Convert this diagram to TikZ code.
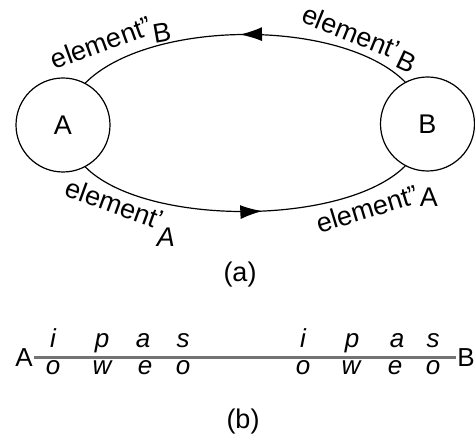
\documentclass[tikz,border=0pt]{standalone}
\usepackage{fontspec}
\setmainfont{Liberation Sans}
\usetikzlibrary{arrows.meta,decorations.markings}
\begin{document}
\begin{tikzpicture}[x=1pt,y=1pt,
  big/.style={font=\fontsize{27}{32}\selectfont},
  station/.style={draw, circle, line width=1.2pt, minimum size=94pt, inner sep=0pt, big},
  arcline/.style={line width=1.2pt},
  lbl/.style={big, inner sep=0pt},
  ilbl/.style={inner sep=0pt, font=\fontsize{27}{32}\selectfont\itshape},
  seg/.style={inner sep=0pt, anchor=base, font=\fontsize{26}{30}\selectfont\itshape},
  endl/.style={inner sep=1.5pt, font=\fontsize{26}{30}\selectfont},
  track/.style={line width=3pt, black!55},
  midarrow/.style={postaction={decorate, decoration={markings,
      mark=at position #1 with {\arrow{Latex[length=22pt,width=14pt]}}}}},
]
\useasboundingbox (0,0) rectangle (475,442);

% part (a)
\node[station] (A) at (63,317) {A};
\node[station] (B) at (427.5,318) {B};

\draw[arcline, midarrow=0.515] (B.118) .. controls +(-64,64) and +(64,64) .. (A.62);
\draw[arcline, midarrow=0.55] (A.-62) .. controls +(60,-60) and +(-60,-60) .. (B.-118);

\node[lbl, rotate=20] (e1) at (101,399.5) {element"};
\node[lbl, rotate=10] (b1) at (162,409) {B};
\node[lbl, rotate=-22] (e2) at (351,410) {element'};
\node[lbl, rotate=-25] (b2) at (407,380) {B};
\node[lbl, rotate=-20] (e3) at (115,238.6) {element'};
\node[ilbl] (a3) at (166,205) {A};
\node[lbl, rotate=17] (e4) at (367,233.4) {element"};
\node[lbl] (a4) at (429,245) {A};

\node[lbl] (capa) at (240,167) {(a)};

% part (b)
\node[endl] (lA) at (24,84) {A};
\node[endl] (lB) at (466,84) {B};
\draw[track] (lA) -- (lB);

\node[seg] (t1) at (53,94) {i};
\node[seg] (t2) at (102,94) {p};
\node[seg] (t3) at (143,94) {a};
\node[seg] (t4) at (183,94) {s};
\node[seg] (t5) at (303,94) {i};
\node[seg] (t6) at (352,94) {p};
\node[seg] (t7) at (397,94) {a};
\node[seg] (t8) at (433,94) {s};

\node[seg] (u1) at (53,67) {o};
\node[seg] (u2) at (102,67) {w};
\node[seg] (u3) at (145,67) {e};
\node[seg] (u4) at (183,67) {o};
\node[seg] (u5) at (303,67) {o};
\node[seg] (u6) at (351,67) {w};
\node[seg] (u7) at (395,67) {e};
\node[seg] (u8) at (433,67) {o};

\node[lbl] (capb) at (243,20) {(b)};
\end{tikzpicture}
\end{document}
